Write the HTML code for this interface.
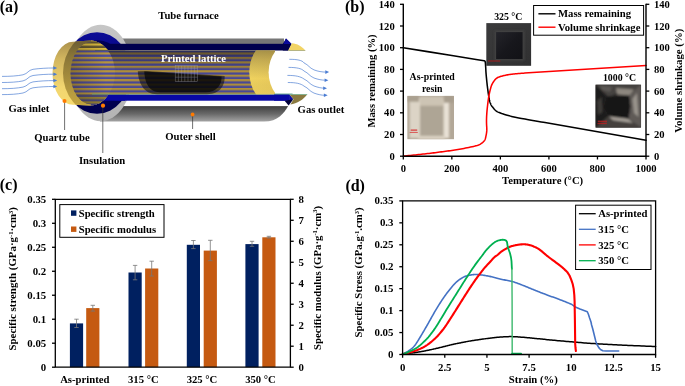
<!DOCTYPE html>
<html><head><meta charset="utf-8"><title>Figure</title>
<style>
html,body{margin:0;padding:0;background:#fff;}
svg{display:block;will-change:transform;font-family:"Liberation Serif",serif;font-weight:bold;}
svg text{opacity:0.999;}
</style></head><body>
<svg width="685" height="386" viewBox="0 0 685 386">
<rect width="685" height="386" fill="#fff"/>
<g id="panel-a">
<defs>
<linearGradient id="gShell" x1="0" y1="0" x2="0" y2="1"><stop offset="0" stop-color="#3e3e3e"/><stop offset="0.5" stop-color="#686868"/><stop offset="1" stop-color="#a4a4a4"/></linearGradient>
<linearGradient id="gFlange" x1="0" y1="0" x2="0" y2="1"><stop offset="0" stop-color="#c6c6c6"/><stop offset="0.5" stop-color="#bcbcbc"/><stop offset="1" stop-color="#b4b4b4"/></linearGradient>
<linearGradient id="gRing" x1="0" y1="0" x2="0" y2="1"><stop offset="0" stop-color="#0c0c96"/><stop offset="0.2" stop-color="#09098c"/><stop offset="0.45" stop-color="#00005e"/><stop offset="1" stop-color="#00004c"/></linearGradient>
<linearGradient id="gFront" x1="0" y1="0" x2="0" y2="1"><stop offset="0" stop-color="#a48a48"/><stop offset="0.3" stop-color="#d2b660"/><stop offset="0.7" stop-color="#f2d670"/><stop offset="1" stop-color="#f6da6e"/></linearGradient>
<linearGradient id="gWall" x1="0" y1="0" x2="0" y2="1"><stop offset="0" stop-color="#5c5030"/><stop offset="0.3" stop-color="#8a7638"/><stop offset="0.75" stop-color="#b89c40"/><stop offset="1" stop-color="#c8a83c"/></linearGradient>
<linearGradient id="gCres" x1="0" y1="0" x2="1" y2="0"><stop offset="0" stop-color="#f6d860"/><stop offset="0.55" stop-color="#f0d05c"/><stop offset="1" stop-color="#b8a05a"/></linearGradient>
<linearGradient id="gCresV" x1="0" y1="0" x2="0" y2="1"><stop offset="0" stop-color="#5a4e30" stop-opacity="0.7"/><stop offset="0.3" stop-color="#6a5c38" stop-opacity="0.35"/><stop offset="0.6" stop-color="#6a6040" stop-opacity="0.05"/><stop offset="1" stop-color="#ffe060" stop-opacity="0.35"/></linearGradient>
<pattern id="pStripes" x="0" y="52.4" width="10" height="4.45" patternUnits="userSpaceOnUse"><rect width="10" height="4.45" fill="#4c4c9e"/><rect y="0" width="10" height="2.2" fill="#b8963c"/></pattern>
<pattern id="pStripesTop" x="0" y="52.4" width="10" height="4.45" patternUnits="userSpaceOnUse"><rect width="10" height="4.45" fill="#5e5430"/><rect y="0" width="10" height="2.2" fill="#dcbc3e"/></pattern>
<pattern id="pStripesBot" x="0" y="52.4" width="10" height="4.45" patternUnits="userSpaceOnUse"><rect width="10" height="4.45" fill="#48467c"/><rect y="0" width="10" height="2.2" fill="#948034"/></pattern><linearGradient id="gShadeT" x1="0" y1="0" x2="0" y2="1"><stop offset="0" stop-color="#0a0a18" stop-opacity="0.5"/><stop offset="0.4" stop-color="#0a0a18" stop-opacity="0.25"/><stop offset="1" stop-color="#0a0a18" stop-opacity="0"/></linearGradient>
<linearGradient id="gShadeL" x1="0" y1="0" x2="1" y2="0"><stop offset="0" stop-color="#2a2010" stop-opacity="0.32"/><stop offset="1" stop-color="#2a2010" stop-opacity="0"/></linearGradient>
<clipPath id="cTube"><path d="M73,41.8 L90,40.5 A25,32.5 0 0 1 107.0,49.2 L108,50.4 H270 V94.3 H108.8 A25,32.5 0 0 1 90,105.5 L73,104.8 A20.5,31.5 0 0 1 73,41.8 Z"/></clipPath>
<clipPath id="cStr"><path d="M91,30 V42.3 A20.5,31 0 0 0 91,104.3 V116 H280 V30 Z"/></clipPath>
<clipPath id="cShade"><path clip-rule="evenodd" d="M95,50.4 H275 V94.3 H95 Z M65,73 A25,32.5 0 1 0 115,73 A25,32.5 0 1 0 65,73 Z"/></clipPath>
<clipPath id="cWin"><rect x="60" y="50.4" width="215" height="43.9"/></clipPath>
</defs>
<text x="-0.30" y="12.20" font-size="16" text-anchor="start" fill="#000" >(a)</text>
<path d="M100,105.9 H288.2 C284,113 278,121.6 264,121.6 H100 Z" fill="url(#gShell)"/>
<rect x="118" y="38.5" width="166" height="5.6" fill="#777777"/>
<rect x="118" y="100.4" width="170.5" height="5.7" fill="#ffffff"/>
<ellipse cx="100.6" cy="73" rx="32" ry="48.2" fill="url(#gFlange)"/>
<ellipse cx="97" cy="73" rx="34" ry="40.8" fill="url(#gRing)"/>
<ellipse cx="98" cy="73.2" rx="27" ry="32.9" fill="#000056"/>
<rect x="100" y="43.8" width="188" height="6.7" fill="#00004e"/>
<rect x="100" y="94.4" width="189.6" height="6.3" fill="#0808a4"/>
<path d="M108.8,94.4 H125 V100.7 H124 C120,101 112,100 104,99.5 Z" fill="#0808a4"/>
<g clip-path="url(#cTube)">
<rect x="50" y="38" width="225" height="70" fill="url(#gFront)"/>
<ellipse cx="97" cy="73" rx="34" ry="40.8" fill="url(#gWall)"/>
<g clip-path="url(#cStr)">
<rect x="60" y="38" width="215" height="70" fill="url(#pStripes)"/>
<rect x="60" y="38" width="60" height="12.4" fill="url(#pStripesTop)"/>
<rect x="60" y="94.3" width="60" height="13" fill="url(#pStripesBot)"/>
<rect x="70" y="38" width="36" height="70" fill="url(#gShadeL)"/>
<g clip-path="url(#cShade)"><rect x="95" y="50.4" width="180" height="21" fill="url(#gShadeT)"/><rect x="95" y="50.4" width="180" height="44" fill="#101020" opacity="0.06"/>
<rect x="95" y="50.3" width="180" height="0.8" fill="#3f6068" opacity="0.9"/></g>
</g>
</g>
<rect x="92" y="93.7" width="200" height="0.8" fill="#5aa08a" opacity="0.8"/>
<g clip-path="url(#cWin)">
<ellipse cx="272.5" cy="72.3" rx="23.2" ry="31" fill="url(#gCres)"/>
<ellipse cx="272.5" cy="72.3" rx="23.2" ry="31" fill="url(#gCresV)"/>
<ellipse cx="292.6" cy="72.3" rx="24" ry="30.2" fill="#ffffff"/>
</g>
<rect x="274" y="94.4" width="15.6" height="6.3" fill="#0808a4"/>
<rect x="274" y="93.7" width="19" height="0.8" fill="#5aa08a" opacity="0.8"/>
<polygon points="282.8,43.9 286,38.5 291.6,43.9 288.4,50.5 282.8,50.5" fill="#00004e"/>
<polygon points="283.5,43.9 286,38.6 291.5,43.9" fill="#0a0a9c"/>
<path d="M288.2,50.5 L292,43.2 C297,43.4 302,46.5 305.3,50.5 Z" fill="#f2d465"/>
<rect x="288.2" y="50.1" width="17.1" height="0.7" fill="#9aa070"/>
<polygon points="289.4,94.4 293.4,99.3 289.4,100.7" fill="#0808a4"/>
<polygon points="284.6,100.7 293.4,99.2 288.6,105.6" fill="#00003c"/>
<path d="M289.4,94.5 H307.2 C303.5,99.5 297,103.8 290.4,104.5 L293.6,99.2 Z" fill="#8a7a40"/>
<rect x="289.4" y="94.1" width="17.8" height="0.8" fill="#76b090"/>
<path d="M137.8,71.2 L147,71 L224.6,76 C225.2,84 221,94.2 207,94.2 H157 C143,94.2 138.4,82 137.8,71.2 Z" fill="#0a0a0a" opacity="0.55"/>
<path d="M144.3,71.5 L221.6,76.4 C221.8,84 217.5,92.2 205,92.2 H160 C148.5,92.2 144.8,82 144.3,71.5 Z" fill="#050505" opacity="0.72"/>
<g stroke="#b0b0b8" stroke-width="0.5" fill="none" opacity="0.6">
<rect x="175.2" y="65.6" width="22.4" height="16"/>
<line x1="178.40" y1="65.6" x2="178.40" y2="81.6"/>
<line x1="181.60" y1="65.6" x2="181.60" y2="81.6"/>
<line x1="184.80" y1="65.6" x2="184.80" y2="81.6"/>
<line x1="188.00" y1="65.6" x2="188.00" y2="81.6"/>
<line x1="191.20" y1="65.6" x2="191.20" y2="81.6"/>
<line x1="194.40" y1="65.6" x2="194.40" y2="81.6"/>
<line x1="175.2" y1="68.4" x2="197.6" y2="68.4"/>
<line x1="175.2" y1="72.8" x2="197.6" y2="72.8"/>
<line x1="175.2" y1="77.2" x2="197.6" y2="77.2"/>
</g>
<text x="193.50" y="61.60" font-size="10.7" text-anchor="middle" fill="#ffffff" >Printed lattice</text>
<path d="M2,76.4 C10,76.4 17,76.0 23,74.80000000000001 C28,73.60000000000001 28,70.2 33,69.3 C40,68.4 46,68.0 54,68.0" fill="none" stroke="#4a7cd2" stroke-width="0.68"/>
<polygon points="57.2,68.0 53.4,66.25 53.4,69.75" fill="#4a7cd2"/>
<path d="M2,82.5 C10,82.5 17,82.1 23,80.9 C28,79.7 28,76.4 33,75.5 C40,74.60000000000001 46,74.2 54,74.2" fill="none" stroke="#4a7cd2" stroke-width="0.68"/>
<polygon points="57.2,74.2 53.4,72.45 53.4,75.95" fill="#4a7cd2"/>
<path d="M2,88.7 C10,88.7 17,88.3 23,87.10000000000001 C28,85.9 28,82.8 33,81.89999999999999 C40,81.0 46,80.6 54,80.6" fill="none" stroke="#4a7cd2" stroke-width="0.68"/>
<polygon points="57.2,80.6 53.4,78.85 53.4,82.35" fill="#4a7cd2"/>
<path d="M2,94.6 C10,94.6 17,94.19999999999999 23,93.0 C28,91.8 28,88.7 33,87.8 C40,86.9 46,86.5 54,86.5" fill="none" stroke="#4a7cd2" stroke-width="0.68"/>
<polygon points="57.2,86.5 53.4,84.75 53.4,88.25" fill="#4a7cd2"/>
<path d="M289.3,59.3 C297.3,59.3 302.3,60.3 304,62.9 C309,65.3 309,67.69999999999999 314,69.89999999999999 C318,71.39999999999999 322,72.1 326.1,72.1" fill="none" stroke="#4a7cd2" stroke-width="0.68"/>
<polygon points="329.1,72.1 325.3,70.3 325.3,73.89999999999999" fill="#4a7cd2"/>
<path d="M288.5,67.4 C296.5,67.4 301.5,68.4 304,71.0 C309,73.4 309,75.8 314,78.0 C318,79.5 322,80.2 325.4,80.2" fill="none" stroke="#4a7cd2" stroke-width="0.68"/>
<polygon points="328.4,80.2 324.59999999999997,78.4 324.59999999999997,82.0" fill="#4a7cd2"/>
<path d="M287.4,75.4 C295.4,75.4 300.4,76.4 304,79.0 C309,81.4 309,83.8 314,86.0 C318,87.5 322,88.2 324.0,88.2" fill="none" stroke="#4a7cd2" stroke-width="0.68"/>
<polygon points="327.0,88.2 323.2,86.4 323.2,90.0" fill="#4a7cd2"/>
<path d="M287.8,82.5 C295.8,82.5 300.8,83.5 304,86.1 C309,88.5 309,90.89999999999999 314,93.1 C318,94.6 322,95.3 324.7,95.3" fill="none" stroke="#4a7cd2" stroke-width="0.68"/>
<polygon points="327.7,95.3 323.9,93.5 323.9,97.1" fill="#4a7cd2"/>
<line x1="64.6" y1="101" x2="64.6" y2="130" stroke="#333" stroke-width="0.7"/>
<line x1="102.8" y1="106" x2="102.8" y2="153" stroke="#333" stroke-width="0.7"/>
<line x1="192.6" y1="114.4" x2="192.6" y2="129" stroke="#333" stroke-width="0.7"/>
<circle cx="64.5" cy="100.9" r="2.0" fill="#ff7a00"/>
<circle cx="103.0" cy="105.7" r="2.1" fill="#ff7a00"/>
<circle cx="192.6" cy="114.5" r="1.9" fill="#ff7a00"/>
<text x="188.50" y="19.00" font-size="10.7" text-anchor="middle" fill="#000" >Tube furnace</text>
<text x="28.90" y="111.80" font-size="10.7" text-anchor="middle" fill="#000" >Gas inlet</text>
<text x="61.90" y="140.80" font-size="10.7" text-anchor="middle" fill="#000" >Quartz tube</text>
<text x="102.10" y="163.60" font-size="10.7" text-anchor="middle" fill="#000" >Insulation</text>
<text x="190.50" y="139.60" font-size="10.7" text-anchor="middle" fill="#000" >Outer shell</text>
<text x="297.60" y="113.20" font-size="10.7" text-anchor="start" fill="#000" >Gas outlet</text>
</g>
<g id="panel-b">
<text x="345.00" y="12.20" font-size="16" text-anchor="start" fill="#000" >(b)</text>
<defs><filter id="bl1" x="-10%" y="-10%" width="120%" height="120%"><feGaussianBlur stdDeviation="1"/></filter><filter id="bl2" x="-10%" y="-10%" width="120%" height="120%"><feGaussianBlur stdDeviation="1.4"/></filter>
<linearGradient id="g325" x1="0" y1="0" x2="1" y2="1"><stop offset="0" stop-color="#3b3b3c"/><stop offset="1" stop-color="#303031"/></linearGradient>
<linearGradient id="g325i" x1="0" y1="0" x2="1" y2="1"><stop offset="0" stop-color="#24242a"/><stop offset="0.5" stop-color="#17171c"/><stop offset="1" stop-color="#121216"/></linearGradient>
<clipPath id="cAP"><rect x="407.2" y="95.8" width="46.8" height="43.6"/></clipPath><clipPath id="c1000"><rect x="595.4" y="84.6" width="45.7" height="43.2"/></clipPath></defs>
<rect x="486.3" y="23.1" width="44.8" height="42.7" fill="url(#g325)"/>
<rect x="494.6" y="30.6" width="29.6" height="30" fill="#424243" filter="url(#bl1)"/>
<rect x="496.1" y="32.1" width="26.5" height="26.9" fill="url(#g325i)"/>
<rect x="488" y="60.3" width="12.3" height="1.4" fill="#b81818" opacity="0.6"/>
<text x="508.30" y="20.40" font-size="9.8" text-anchor="middle" fill="#000" >325 °C</text>
<g clip-path="url(#cAP)">
<rect x="407.2" y="95.8" width="46.8" height="43.6" fill="#b3a898"/>
<g filter="url(#bl1)">
<rect x="409.7" y="98" width="10.3" height="40" fill="#dcd4c6"/>
<rect x="443.4" y="100" width="5.6" height="38" fill="#e8e1d5"/>
<rect x="420" y="96.5" width="23.5" height="9.2" fill="#cdc4b4"/>
<rect x="418" y="135.6" width="27" height="3.6" fill="#dbd3c4"/>
<rect x="407" y="95.8" width="12" height="6" fill="#aaa090"/>
<rect x="444" y="95.8" width="10" height="7" fill="#a89e8e"/>
<rect x="420.5" y="106.1" width="22.9" height="29.6" fill="#aea595"/>
</g>
<rect x="409.7" y="132.1" width="8.1" height="0.7" fill="#d83030"/>
<rect x="410.7" y="129.3" width="6.5" height="1.8" fill="#d84040" opacity="0.75"/>
</g>
<text x="432.20" y="80.00" font-size="9.8" text-anchor="middle" fill="#000" >As-printed</text>
<text x="432.20" y="91.70" font-size="9.8" text-anchor="middle" fill="#000" >resin</text>
<g clip-path="url(#c1000)">
<rect x="595.4" y="84.6" width="45.7" height="43.2" fill="#2b2928"/>
<g filter="url(#bl1)">
<polygon points="595,84 641.5,84 631,96 618,93 606,98" fill="#45423f"/>
<polygon points="616,88 634,89.5 629.5,95.8 617,94.5" fill="#8c867e"/>
<polygon points="600,86 612,87 610,92 602,90" fill="#5c5854"/>
<polygon points="641.5,84 641.5,128 628.4,119 630.4,106 629,95.5" fill="#5e5a56"/>
<polygon points="632.5,99 637,93 638.5,117 634,113" fill="#98938b"/>
<polygon points="595,128 641.5,128 628.4,118.4 608.8,115.7" fill="#44413e"/>
<polygon points="609,116.6 628,118.8 633,123 613,120.2" fill="#a49e96"/>
<polygon points="595,84 607.5,96.2 604.1,106.9 608.8,115.7 595,128" fill="#1f1d1c"/>
<polygon points="597,101 601.5,97 602.5,112 598,115" fill="#3e3b39"/>
<polygon points="607.5,96.2 629,95.5 630.4,106.9 628.4,118.4 608.8,115.7 604.1,106.9" fill="#151517"/>
</g>
<rect x="597.4" y="123.4" width="9.4" height="0.7" fill="#e01818"/>
<rect x="597.8" y="120.6" width="9.2" height="1.7" fill="#c82020" opacity="0.7"/>
</g>
<text x="619.50" y="80.60" font-size="9.8" text-anchor="middle" fill="#000" >1000 °C</text>
<polyline points="403.30,47.70 427.57,51.61 451.84,55.51 476.11,59.42 484.12,60.72 484.12,60.72 484.21,60.77 484.33,60.81 484.48,60.86 484.63,60.92 484.80,61.03 484.96,61.20 485.10,61.45 485.21,61.81 485.30,62.27 485.38,62.82 485.44,63.45 485.50,64.15 485.55,64.89 485.59,65.67 485.64,66.45 485.70,67.23 485.75,67.99 485.78,68.73 485.82,69.48 485.85,70.26 485.89,71.10 485.95,72.01 486.02,73.03 486.11,74.17 486.22,75.47 486.36,76.91 486.51,78.45 486.67,80.07 486.84,81.74 487.02,83.41 487.20,85.06 487.40,86.65 487.60,88.25 487.82,89.93 488.05,91.63 488.28,93.31 488.52,94.94 488.75,96.46 488.98,97.83 489.19,99.02 489.39,100.00 489.58,100.81 489.76,101.49 489.94,102.05 490.11,102.54 490.29,103.00 490.48,103.44 490.67,103.90 490.86,104.35 491.04,104.75 491.21,105.09 491.39,105.42 491.59,105.74 491.82,106.07 492.08,106.43 492.40,106.83 492.76,107.30 493.17,107.82 493.62,108.36 494.09,108.92 494.59,109.47 495.09,109.99 495.60,110.48 496.11,110.90 496.61,111.26 497.12,111.58 497.64,111.86 498.16,112.11 498.70,112.35 499.25,112.57 499.81,112.79 500.38,113.02 500.95,113.24 501.50,113.44 502.05,113.63 502.62,113.81 503.23,114.00 503.88,114.20 504.60,114.41 505.40,114.64 506.29,114.91 507.24,115.20 508.26,115.50 509.33,115.81 510.44,116.13 511.60,116.44 512.78,116.74 514.00,117.03 515.19,117.30 516.36,117.54 517.55,117.77 518.78,117.99 520.10,118.23 521.55,118.49 523.17,118.77 524.99,119.09 527.20,119.48 529.83,119.94 532.71,120.44 535.68,120.96 538.56,121.46 541.18,121.91 543.38,122.29 544.99,122.56 544.99,122.56 646.00,140.30" fill="none" stroke="#000" stroke-width="1.55" stroke-linejoin="round" stroke-linecap="round" />
<polyline points="403.30,156.20 404.24,156.10 405.48,155.97 406.96,155.81 408.61,155.63 410.35,155.44 412.12,155.25 413.84,155.07 415.44,154.90 416.95,154.74 418.47,154.58 419.99,154.42 421.50,154.26 423.02,154.10 424.54,153.94 426.05,153.77 427.57,153.60 429.09,153.42 430.60,153.23 432.12,153.05 433.64,152.86 435.15,152.66 436.67,152.47 438.19,152.27 439.71,152.08 441.22,151.88 442.74,151.69 444.26,151.49 445.77,151.30 447.29,151.10 448.81,150.89 450.32,150.67 451.84,150.45 453.36,150.22 454.87,149.98 456.39,149.73 457.91,149.48 459.42,149.22 460.94,148.95 462.46,148.67 463.98,148.39 465.54,148.08 467.18,147.76 468.85,147.43 470.50,147.09 472.09,146.74 473.59,146.41 474.94,146.09 476.11,145.78 477.07,145.51 477.86,145.26 478.52,145.03 479.07,144.80 479.55,144.57 480.01,144.32 480.47,144.04 480.96,143.72 481.49,143.37 482.01,143.01 482.51,142.62 483.00,142.21 483.45,141.78 483.88,141.33 484.26,140.86 484.60,140.36 484.90,139.83 485.14,139.28 485.34,138.70 485.51,138.10 485.66,137.48 485.80,136.86 485.93,136.22 486.06,135.58 486.19,134.95 486.32,134.30 486.43,133.65 486.53,132.98 486.62,132.30 486.69,131.61 486.75,130.89 486.79,130.16 486.80,129.39 486.79,128.58 486.76,127.75 486.71,126.91 486.66,126.06 486.61,125.23 486.57,124.42 486.55,123.65 486.53,122.93 486.52,122.27 486.51,121.63 486.50,121.01 486.50,120.37 486.51,119.71 486.52,119.00 486.55,118.22 486.58,117.39 486.62,116.50 486.67,115.58 486.73,114.63 486.79,113.65 486.86,112.66 486.94,111.65 487.03,110.63 487.13,109.58 487.24,108.49 487.36,107.36 487.49,106.22 487.62,105.09 487.75,103.99 487.88,102.94 488.00,101.95 488.12,101.02 488.24,100.14 488.36,99.30 488.47,98.49 488.59,97.71 488.71,96.94 488.84,96.19 488.97,95.44 489.11,94.71 489.25,93.99 489.40,93.30 489.55,92.63 489.70,91.96 489.86,91.31 490.02,90.66 490.19,90.02 490.35,89.37 490.52,88.73 490.68,88.10 490.85,87.47 491.03,86.86 491.22,86.26 491.42,85.69 491.64,85.13 491.88,84.60 492.13,84.09 492.39,83.60 492.66,83.12 492.94,82.66 493.23,82.21 493.53,81.77 493.83,81.33 494.13,80.91 494.43,80.49 494.74,80.08 495.06,79.69 495.39,79.31 495.73,78.95 496.10,78.61 496.50,78.30 496.91,78.02 497.33,77.77 497.77,77.54 498.23,77.33 498.71,77.14 499.23,76.95 499.78,76.76 500.38,76.56 501.02,76.36 501.70,76.16 502.42,75.96 503.17,75.76 503.95,75.57 504.76,75.39 505.59,75.21 506.45,75.04 507.32,74.88 508.21,74.74 509.12,74.59 510.06,74.46 511.03,74.33 512.04,74.20 513.10,74.08 514.21,73.96 515.46,73.83 516.88,73.70 518.39,73.58 519.92,73.46 521.38,73.34 522.71,73.24 523.83,73.15 524.65,73.09 646.00,65.49" fill="none" stroke="#ff0000" stroke-width="1.55" stroke-linejoin="round" stroke-linecap="round" />
<path d="M403.3,3.6999999999999997 V156.2 H646.0 V3.6999999999999997" fill="none" stroke="#000" stroke-width="1.4"/>
<line x1="400.0" y1="156.20" x2="403.3" y2="156.20" stroke="#000" stroke-width="1.3"/>
<line x1="646.0" y1="156.20" x2="649.3" y2="156.20" stroke="#000" stroke-width="1.3"/>
<text x="394.70" y="159.80" font-size="10.6" text-anchor="end" fill="#000" >0</text>
<text x="654.00" y="159.80" font-size="10.6" text-anchor="start" fill="#000" >0</text>
<line x1="400.0" y1="134.50" x2="403.3" y2="134.50" stroke="#000" stroke-width="1.3"/>
<line x1="646.0" y1="134.50" x2="649.3" y2="134.50" stroke="#000" stroke-width="1.3"/>
<text x="394.70" y="138.10" font-size="10.6" text-anchor="end" fill="#000" >20</text>
<text x="654.00" y="138.10" font-size="10.6" text-anchor="start" fill="#000" >20</text>
<line x1="400.0" y1="112.80" x2="403.3" y2="112.80" stroke="#000" stroke-width="1.3"/>
<line x1="646.0" y1="112.80" x2="649.3" y2="112.80" stroke="#000" stroke-width="1.3"/>
<text x="394.70" y="116.40" font-size="10.6" text-anchor="end" fill="#000" >40</text>
<text x="654.00" y="116.40" font-size="10.6" text-anchor="start" fill="#000" >40</text>
<line x1="400.0" y1="91.10" x2="403.3" y2="91.10" stroke="#000" stroke-width="1.3"/>
<line x1="646.0" y1="91.10" x2="649.3" y2="91.10" stroke="#000" stroke-width="1.3"/>
<text x="394.70" y="94.70" font-size="10.6" text-anchor="end" fill="#000" >60</text>
<text x="654.00" y="94.70" font-size="10.6" text-anchor="start" fill="#000" >60</text>
<line x1="400.0" y1="69.40" x2="403.3" y2="69.40" stroke="#000" stroke-width="1.3"/>
<line x1="646.0" y1="69.40" x2="649.3" y2="69.40" stroke="#000" stroke-width="1.3"/>
<text x="394.70" y="73.00" font-size="10.6" text-anchor="end" fill="#000" >80</text>
<text x="654.00" y="73.00" font-size="10.6" text-anchor="start" fill="#000" >80</text>
<line x1="400.0" y1="47.70" x2="403.3" y2="47.70" stroke="#000" stroke-width="1.3"/>
<line x1="646.0" y1="47.70" x2="649.3" y2="47.70" stroke="#000" stroke-width="1.3"/>
<text x="394.70" y="51.30" font-size="10.6" text-anchor="end" fill="#000" >100</text>
<text x="654.00" y="51.30" font-size="10.6" text-anchor="start" fill="#000" >100</text>
<line x1="400.0" y1="26.00" x2="403.3" y2="26.00" stroke="#000" stroke-width="1.3"/>
<line x1="646.0" y1="26.00" x2="649.3" y2="26.00" stroke="#000" stroke-width="1.3"/>
<text x="394.70" y="29.60" font-size="10.6" text-anchor="end" fill="#000" >120</text>
<text x="654.00" y="29.60" font-size="10.6" text-anchor="start" fill="#000" >120</text>
<line x1="400.0" y1="4.30" x2="403.3" y2="4.30" stroke="#000" stroke-width="1.3"/>
<line x1="646.0" y1="4.30" x2="649.3" y2="4.30" stroke="#000" stroke-width="1.3"/>
<text x="394.70" y="7.90" font-size="10.6" text-anchor="end" fill="#000" >140</text>
<text x="654.00" y="7.90" font-size="10.6" text-anchor="start" fill="#000" >140</text>
<line x1="403.30" y1="156.2" x2="403.30" y2="159.5" stroke="#000" stroke-width="1.3"/>
<text x="403.30" y="172.40" font-size="10.6" text-anchor="middle" fill="#000" >0</text>
<line x1="451.84" y1="156.2" x2="451.84" y2="159.5" stroke="#000" stroke-width="1.3"/>
<text x="451.84" y="172.40" font-size="10.6" text-anchor="middle" fill="#000" >200</text>
<line x1="500.38" y1="156.2" x2="500.38" y2="159.5" stroke="#000" stroke-width="1.3"/>
<text x="500.38" y="172.40" font-size="10.6" text-anchor="middle" fill="#000" >400</text>
<line x1="548.92" y1="156.2" x2="548.92" y2="159.5" stroke="#000" stroke-width="1.3"/>
<text x="548.92" y="172.40" font-size="10.6" text-anchor="middle" fill="#000" >600</text>
<line x1="597.46" y1="156.2" x2="597.46" y2="159.5" stroke="#000" stroke-width="1.3"/>
<text x="597.46" y="172.40" font-size="10.6" text-anchor="middle" fill="#000" >800</text>
<line x1="646.00" y1="156.2" x2="646.00" y2="159.5" stroke="#000" stroke-width="1.3"/>
<text x="646.00" y="172.40" font-size="10.6" text-anchor="middle" fill="#000" >1000</text>
<text x="542.60" y="184.40" font-size="10.7" text-anchor="middle" fill="#000" >Temperature (°C)</text>
<text transform="translate(375.20,81.00) rotate(-90)" font-size="10.65" text-anchor="middle" fill="#000">Mass remaining (%)</text>
<text transform="translate(682.10,80.70) rotate(-90)" font-size="10.8" text-anchor="middle" fill="#000">Volume shrinkage (%)</text>
<rect x="533.6" y="5.5" width="110" height="29.7" fill="#fff" stroke="#000" stroke-width="1"/>
<line x1="538.4" y1="13.8" x2="555.5" y2="13.8" stroke="#000" stroke-width="1.4"/>
<line x1="538.4" y1="27.2" x2="555.5" y2="27.2" stroke="#ff0000" stroke-width="1.4"/>
<text x="558.00" y="17.40" font-size="10.7" text-anchor="start" fill="#000" >Mass remaining</text>
<text x="558.00" y="30.80" font-size="10.7" text-anchor="start" fill="#000" >Volume shrinkage</text>
</g>
<g id="panel-c">
<text x="-0.30" y="189.70" font-size="16" text-anchor="start" fill="#000" >(c)</text>
<rect x="69.9" y="323.4" width="13.2" height="43.80" fill="#002060"/>
<rect x="86.2" y="308.1" width="13.2" height="59.10" fill="#c55a11"/>
<path d="M76.50,319.2 V327.5 M74.30,319.2 H78.70 M74.30,327.5 H78.70" stroke="#767676" stroke-width="0.8" fill="none"/>
<path d="M92.80,305.3 V311.1 M90.60,305.3 H95.00 M90.60,311.1 H95.00" stroke="#767676" stroke-width="0.8" fill="none"/>
<rect x="128.5" y="272.5" width="13.2" height="94.70" fill="#002060"/>
<rect x="145.1" y="268.5" width="13.2" height="98.70" fill="#c55a11"/>
<path d="M135.10,265.4 V279.8 M132.90,265.4 H137.30 M132.90,279.8 H137.30" stroke="#767676" stroke-width="0.8" fill="none"/>
<path d="M151.70,261.2 V276.0 M149.50,261.2 H153.90 M149.50,276.0 H153.90" stroke="#767676" stroke-width="0.8" fill="none"/>
<rect x="186.8" y="244.8" width="13.2" height="122.40" fill="#002060"/>
<rect x="203.7" y="250.6" width="13.2" height="116.60" fill="#c55a11"/>
<path d="M193.40,240.5 V248.6 M191.20,240.5 H195.60 M191.20,248.6 H195.60" stroke="#767676" stroke-width="0.8" fill="none"/>
<path d="M210.30,240.3 V260.7 M208.10,240.3 H212.50 M208.10,260.7 H212.50" stroke="#767676" stroke-width="0.8" fill="none"/>
<rect x="245.4" y="244.1" width="13.2" height="123.10" fill="#002060"/>
<rect x="262.3" y="237.3" width="13.2" height="129.90" fill="#c55a11"/>
<path d="M252.00,241.3 V246.3 M249.80,241.3 H254.20 M249.80,246.3 H254.20" stroke="#767676" stroke-width="0.8" fill="none"/>
<path d="M268.90,236.3 V238.0 M266.70,236.3 H271.10 M266.70,238.0 H271.10" stroke="#767676" stroke-width="0.8" fill="none"/>
<path d="M55.3,199.3 V367.2 H290.4 V199.3 Z" fill="none" stroke="#000" stroke-width="1.3"/>
<line x1="52.0" y1="367.20" x2="55.3" y2="367.20" stroke="#000" stroke-width="1.3"/>
<text x="46.20" y="370.80" font-size="10.8" text-anchor="end" fill="#000" >0</text>
<line x1="52.0" y1="343.21" x2="55.3" y2="343.21" stroke="#000" stroke-width="1.3"/>
<text x="46.20" y="346.81" font-size="10.8" text-anchor="end" fill="#000" >0.05</text>
<line x1="52.0" y1="319.23" x2="55.3" y2="319.23" stroke="#000" stroke-width="1.3"/>
<text x="46.20" y="322.83" font-size="10.8" text-anchor="end" fill="#000" >0.1</text>
<line x1="52.0" y1="295.24" x2="55.3" y2="295.24" stroke="#000" stroke-width="1.3"/>
<text x="46.20" y="298.84" font-size="10.8" text-anchor="end" fill="#000" >0.15</text>
<line x1="52.0" y1="271.26" x2="55.3" y2="271.26" stroke="#000" stroke-width="1.3"/>
<text x="46.20" y="274.86" font-size="10.8" text-anchor="end" fill="#000" >0.2</text>
<line x1="52.0" y1="247.27" x2="55.3" y2="247.27" stroke="#000" stroke-width="1.3"/>
<text x="46.20" y="250.87" font-size="10.8" text-anchor="end" fill="#000" >0.25</text>
<line x1="52.0" y1="223.29" x2="55.3" y2="223.29" stroke="#000" stroke-width="1.3"/>
<text x="46.20" y="226.89" font-size="10.8" text-anchor="end" fill="#000" >0.3</text>
<line x1="52.0" y1="199.30" x2="55.3" y2="199.30" stroke="#000" stroke-width="1.3"/>
<text x="46.20" y="202.90" font-size="10.8" text-anchor="end" fill="#000" >0.35</text>
<line x1="290.4" y1="367.20" x2="293.7" y2="367.20" stroke="#000" stroke-width="1.3"/>
<text x="298.60" y="370.80" font-size="10.8" text-anchor="start" fill="#000" >0</text>
<line x1="290.4" y1="346.21" x2="293.7" y2="346.21" stroke="#000" stroke-width="1.3"/>
<text x="298.60" y="349.81" font-size="10.8" text-anchor="start" fill="#000" >1</text>
<line x1="290.4" y1="325.23" x2="293.7" y2="325.23" stroke="#000" stroke-width="1.3"/>
<text x="298.60" y="328.83" font-size="10.8" text-anchor="start" fill="#000" >2</text>
<line x1="290.4" y1="304.24" x2="293.7" y2="304.24" stroke="#000" stroke-width="1.3"/>
<text x="298.60" y="307.84" font-size="10.8" text-anchor="start" fill="#000" >3</text>
<line x1="290.4" y1="283.25" x2="293.7" y2="283.25" stroke="#000" stroke-width="1.3"/>
<text x="298.60" y="286.85" font-size="10.8" text-anchor="start" fill="#000" >4</text>
<line x1="290.4" y1="262.26" x2="293.7" y2="262.26" stroke="#000" stroke-width="1.3"/>
<text x="298.60" y="265.86" font-size="10.8" text-anchor="start" fill="#000" >5</text>
<line x1="290.4" y1="241.28" x2="293.7" y2="241.28" stroke="#000" stroke-width="1.3"/>
<text x="298.60" y="244.88" font-size="10.8" text-anchor="start" fill="#000" >6</text>
<line x1="290.4" y1="220.29" x2="293.7" y2="220.29" stroke="#000" stroke-width="1.3"/>
<text x="298.60" y="223.89" font-size="10.8" text-anchor="start" fill="#000" >7</text>
<line x1="290.4" y1="199.30" x2="293.7" y2="199.30" stroke="#000" stroke-width="1.3"/>
<text x="298.60" y="202.90" font-size="10.8" text-anchor="start" fill="#000" >8</text>
<text x="84.80" y="383.10" font-size="10.7" text-anchor="middle" fill="#000" >As-printed</text>
<text x="143.30" y="383.10" font-size="10.7" text-anchor="middle" fill="#000" >315 °C</text>
<text x="202.00" y="383.10" font-size="10.7" text-anchor="middle" fill="#000" >325 °C</text>
<text x="260.50" y="383.10" font-size="10.7" text-anchor="middle" fill="#000" >350 °C</text>
<text transform="translate(16.40,278.80) rotate(-90)" font-size="10.9" text-anchor="middle" fill="#000">Specific strength (GPa·g<tspan font-size="6.5" dy="-3.6">-1</tspan><tspan dy="3.6">·cm</tspan><tspan font-size="6.5" dy="-3.6">3</tspan><tspan dy="3.6">)</tspan></text>
<text transform="translate(321.00,277.90) rotate(-90)" font-size="10.85" text-anchor="middle" fill="#000">Specific modulus (GPa·g<tspan font-size="6.5" dy="-3.6">-1</tspan><tspan dy="3.6">·cm</tspan><tspan font-size="6.5" dy="-3.6">3</tspan><tspan dy="3.6">)</tspan></text>
<rect x="59.8" y="204.6" width="104.2" height="32.7" fill="#fff" stroke="#000" stroke-width="1"/>
<rect x="71.0" y="210.4" width="5.4" height="5.4" fill="#002060"/>
<rect x="71.0" y="226.5" width="5.4" height="5.4" fill="#c55a11"/>
<text x="78.70" y="216.70" font-size="10.7" text-anchor="start" fill="#000" >Specific strength</text>
<text x="78.70" y="232.80" font-size="10.7" text-anchor="start" fill="#000" >Specific modulus</text>
</g>
<g id="panel-d">
<text x="345.40" y="191.30" font-size="16" text-anchor="start" fill="#000" >(d)</text>
<polyline points="402.60,354.30 402.89,354.26 403.24,354.21 403.65,354.15 404.11,354.08 404.61,354.00 405.15,353.93 405.72,353.84 406.31,353.76 406.92,353.67 407.54,353.58 408.17,353.49 408.80,353.40 409.44,353.31 410.12,353.22 410.82,353.13 411.54,353.04 412.28,352.94 413.04,352.84 413.80,352.74 414.57,352.64 415.34,352.54 416.10,352.43 416.86,352.31 417.60,352.20 418.33,352.08 419.07,351.96 419.80,351.84 420.53,351.71 421.27,351.58 422.00,351.44 422.73,351.31 423.47,351.17 424.20,351.03 424.93,350.89 425.67,350.75 426.40,350.60 427.13,350.45 427.86,350.31 428.58,350.16 429.31,350.00 430.03,349.85 430.76,349.69 431.48,349.54 432.21,349.37 432.95,349.21 433.69,349.04 434.44,348.87 435.20,348.70 435.97,348.52 436.76,348.34 437.56,348.15 438.37,347.95 439.18,347.75 439.99,347.56 440.81,347.36 441.61,347.16 442.41,346.96 443.19,346.77 443.96,346.58 444.70,346.40 445.42,346.22 446.12,346.05 446.81,345.87 447.48,345.70 448.14,345.54 448.79,345.37 449.45,345.20 450.10,345.04 450.76,344.88 451.43,344.72 452.10,344.56 452.80,344.40 453.51,344.24 454.23,344.09 454.96,343.93 455.70,343.78 456.44,343.63 457.18,343.48 457.93,343.33 458.67,343.18 459.41,343.03 460.15,342.89 460.88,342.74 461.60,342.60 462.32,342.46 463.03,342.32 463.74,342.18 464.44,342.04 465.15,341.90 465.85,341.76 466.55,341.63 467.24,341.50 467.94,341.37 468.63,341.24 469.32,341.12 470.00,341.00 470.67,340.89 471.33,340.78 471.98,340.68 472.62,340.58 473.26,340.48 473.90,340.39 474.55,340.29 475.20,340.20 475.87,340.10 476.56,340.01 477.26,339.91 478.00,339.80 478.76,339.69 479.53,339.58 480.31,339.46 481.11,339.34 481.92,339.23 482.75,339.11 483.59,338.99 484.44,338.87 485.31,338.75 486.19,338.63 487.09,338.51 488.00,338.40 488.93,338.29 489.90,338.17 490.88,338.05 491.89,337.93 492.91,337.81 493.94,337.69 494.97,337.58 496.00,337.47 497.02,337.37 498.03,337.27 499.03,337.18 500.00,337.10 500.95,337.03 501.89,336.96 502.82,336.89 503.74,336.83 504.65,336.78 505.56,336.73 506.47,336.69 507.37,336.66 508.27,336.63 509.18,336.61 510.09,336.60 511.00,336.60 511.91,336.61 512.81,336.63 513.70,336.66 514.59,336.70 515.48,336.74 516.38,336.79 517.27,336.85 518.19,336.91 519.11,336.98 520.05,337.05 521.01,337.13 522.00,337.20 523.01,337.28 524.03,337.36 525.06,337.45 526.11,337.54 527.17,337.64 528.25,337.74 529.34,337.85 530.44,337.96 531.56,338.06 532.69,338.18 533.84,338.29 535.00,338.40 536.16,338.51 537.33,338.63 538.49,338.75 539.67,338.87 540.86,338.99 542.06,339.11 543.29,339.24 544.56,339.37 545.85,339.50 547.19,339.63 548.57,339.76 550.00,339.90 551.49,340.04 553.03,340.18 554.62,340.33 556.25,340.48 557.92,340.63 559.61,340.79 561.33,340.94 563.06,341.10 564.80,341.25 566.54,341.40 568.28,341.55 570.00,341.70 571.73,341.85 573.49,342.00 575.27,342.15 577.07,342.30 578.87,342.45 580.67,342.59 582.48,342.74 584.27,342.88 586.04,343.02 587.79,343.15 589.51,343.28 591.20,343.40 592.85,343.51 594.46,343.62 596.04,343.72 597.60,343.81 599.14,343.91 600.68,343.99 602.20,344.08 603.73,344.16 605.27,344.25 606.83,344.33 608.40,344.41 610.00,344.50 611.61,344.59 613.20,344.67 614.78,344.76 616.37,344.84 617.96,344.92 619.58,345.01 621.21,345.09 622.87,345.17 624.58,345.25 626.33,345.33 628.13,345.42 630.00,345.50 632.02,345.59 634.24,345.68 636.61,345.77 639.07,345.87 641.57,345.97 644.05,346.06 646.46,346.15 648.76,346.24 650.87,346.32 652.75,346.39 654.35,346.45 655.60,346.50" fill="none" stroke="#000" stroke-width="1.5" stroke-linejoin="round" stroke-linecap="round" />
<polyline points="402.60,354.00 402.74,353.93 402.91,353.85 403.11,353.76 403.34,353.66 403.58,353.54 403.84,353.42 404.12,353.29 404.40,353.16 404.68,353.02 404.96,352.88 405.24,352.74 405.50,352.60 405.75,352.47 406.00,352.34 406.25,352.22 406.50,352.10 406.75,351.97 407.00,351.84 407.26,351.69 407.54,351.54 407.82,351.36 408.13,351.17 408.45,350.95 408.80,350.70 409.17,350.43 409.57,350.15 409.98,349.86 410.42,349.55 410.87,349.22 411.33,348.88 411.79,348.51 412.26,348.12 412.73,347.70 413.19,347.26 413.65,346.80 414.10,346.30 414.53,345.78 414.95,345.25 415.36,344.70 415.77,344.13 416.18,343.53 416.59,342.91 417.01,342.26 417.44,341.57 417.89,340.84 418.37,340.08 418.87,339.26 419.40,338.40 419.97,337.47 420.57,336.48 421.21,335.42 421.87,334.32 422.54,333.18 423.23,332.01 423.93,330.82 424.62,329.63 425.31,328.44 425.99,327.26 426.66,326.11 427.30,325.00 427.92,323.91 428.54,322.82 429.15,321.73 429.75,320.65 430.34,319.57 430.94,318.50 431.53,317.43 432.12,316.37 432.71,315.32 433.30,314.27 433.90,313.23 434.50,312.20 435.11,311.18 435.71,310.15 436.32,309.14 436.93,308.13 437.54,307.12 438.15,306.12 438.76,305.14 439.37,304.16 439.98,303.20 440.59,302.25 441.19,301.32 441.80,300.40 442.40,299.50 443.00,298.61 443.60,297.73 444.20,296.87 444.80,296.01 445.40,295.17 446.00,294.35 446.60,293.53 447.20,292.73 447.80,291.94 448.40,291.16 449.00,290.40 449.60,289.64 450.21,288.89 450.82,288.15 451.43,287.42 452.03,286.70 452.64,285.99 453.25,285.31 453.86,284.64 454.47,283.99 455.08,283.37 455.69,282.77 456.30,282.20 456.91,281.66 457.52,281.14 458.13,280.64 458.74,280.16 459.35,279.70 459.96,279.27 460.57,278.86 461.17,278.46 461.78,278.09 462.39,277.74 463.00,277.41 463.60,277.10 464.20,276.81 464.80,276.56 465.40,276.32 466.00,276.11 466.60,275.93 467.20,275.76 467.80,275.60 468.40,275.46 469.00,275.34 469.60,275.22 470.20,275.11 470.80,275.00 471.39,274.90 471.97,274.81 472.53,274.73 473.09,274.67 473.65,274.61 474.22,274.57 474.80,274.54 475.40,274.52 476.02,274.52 476.67,274.53 477.37,274.56 478.10,274.60 478.88,274.66 479.71,274.74 480.57,274.83 481.46,274.94 482.38,275.06 483.32,275.20 484.27,275.35 485.23,275.50 486.18,275.67 487.14,275.84 488.08,276.02 489.00,276.20 489.91,276.39 490.80,276.60 491.69,276.82 492.58,277.04 493.47,277.28 494.36,277.52 495.26,277.77 496.17,278.02 497.10,278.27 498.04,278.52 499.01,278.76 500.00,279.00 501.03,279.23 502.09,279.45 503.18,279.67 504.29,279.89 505.42,280.11 506.56,280.32 507.69,280.55 508.82,280.78 509.93,281.02 511.02,281.26 512.08,281.52 513.10,281.80 514.09,282.09 515.06,282.40 516.02,282.72 516.96,283.05 517.88,283.39 518.79,283.74 519.68,284.09 520.57,284.44 521.44,284.79 522.30,285.13 523.15,285.47 524.00,285.80 524.82,286.12 525.61,286.43 526.37,286.74 527.12,287.05 527.85,287.35 528.58,287.66 529.31,287.96 530.06,288.27 530.82,288.59 531.61,288.92 532.44,289.25 533.30,289.60 534.19,289.96 535.11,290.32 536.03,290.69 536.98,291.07 537.94,291.45 538.92,291.84 539.93,292.23 540.96,292.63 542.00,293.04 543.08,293.45 544.18,293.87 545.30,294.30 546.47,294.74 547.71,295.20 549.00,295.67 550.33,296.15 551.67,296.64 553.03,297.12 554.38,297.61 555.72,298.10 557.02,298.57 558.28,299.03 559.48,299.48 560.60,299.90 561.69,300.32 562.77,300.74 563.85,301.17 564.90,301.59 565.93,302.00 566.91,302.40 567.83,302.78 568.70,303.13 569.49,303.46 570.19,303.75 570.80,304.00 571.30,304.20 575.90,307.30 580.00,309.00 587.30,311.70 588.30,314.00 589.60,318.00 591.00,322.00 591.60,325.00 592.70,328.70 594.00,334.00 595.70,340.90 597.00,344.50 598.80,347.60 600.50,349.50 602.80,350.70 606.00,351.00 618.70,351.00" fill="none" stroke="#4472c4" stroke-width="1.6" stroke-linejoin="round" stroke-linecap="round" />
<polyline points="402.60,354.20 402.89,354.13 403.24,354.05 403.65,353.96 404.11,353.86 404.61,353.75 405.15,353.62 405.72,353.49 406.31,353.35 406.92,353.20 407.54,353.04 408.17,352.88 408.80,352.70 409.44,352.52 410.12,352.33 410.82,352.13 411.54,351.92 412.28,351.71 413.04,351.48 413.80,351.25 414.57,351.00 415.34,350.74 416.10,350.47 416.86,350.19 417.60,349.90 418.33,349.60 419.07,349.29 419.80,348.98 420.53,348.65 421.27,348.32 422.00,347.97 422.73,347.61 423.47,347.23 424.20,346.83 424.93,346.41 425.67,345.97 426.40,345.50 427.14,345.00 427.90,344.46 428.67,343.90 429.44,343.31 430.22,342.70 430.99,342.07 431.75,341.45 432.49,340.81 433.21,340.19 433.91,339.57 434.57,338.98 435.20,338.40 435.79,337.84 436.35,337.30 436.87,336.76 437.37,336.24 437.85,335.71 438.32,335.19 438.77,334.67 439.21,334.15 439.66,333.63 440.10,333.09 440.54,332.55 441.00,332.00 441.44,331.47 441.86,330.97 442.25,330.49 442.63,330.03 443.01,329.56 443.39,329.07 443.78,328.56 444.20,327.99 444.66,327.37 445.15,326.67 445.70,325.89 446.30,325.00 446.97,324.00 447.71,322.88 448.49,321.68 449.32,320.40 450.18,319.05 451.06,317.67 451.96,316.26 452.86,314.84 453.75,313.42 454.63,312.04 455.48,310.69 456.30,309.40 457.09,308.15 457.87,306.91 458.64,305.68 459.40,304.45 460.16,303.23 460.91,302.02 461.66,300.82 462.41,299.63 463.15,298.44 463.90,297.25 464.65,296.07 465.40,294.90 466.15,293.73 466.90,292.56 467.65,291.40 468.40,290.24 469.15,289.09 469.90,287.95 470.65,286.81 471.40,285.69 472.15,284.57 472.90,283.47 473.65,282.38 474.40,281.30 475.16,280.22 475.94,279.14 476.73,278.05 477.52,276.97 478.32,275.90 479.11,274.85 479.89,273.82 480.66,272.81 481.41,271.85 482.13,270.92 482.83,270.03 483.50,269.20 484.14,268.42 484.76,267.69 485.36,267.00 485.94,266.35 486.50,265.73 487.04,265.14 487.57,264.58 488.09,264.04 488.58,263.52 489.07,263.00 489.54,262.50 490.00,262.00 490.44,261.51 490.87,261.03 491.27,260.57 491.66,260.13 492.04,259.71 492.40,259.30 492.75,258.91 493.09,258.53 493.43,258.17 493.75,257.83 494.08,257.51 494.40,257.20 494.71,256.92 495.00,256.68 495.27,256.46 495.54,256.27 495.79,256.10 496.04,255.94 496.30,255.78 496.55,255.61 496.82,255.44 497.09,255.25 497.39,255.04 497.70,254.80 498.02,254.53 498.34,254.25 498.66,253.96 498.99,253.65 499.32,253.34 499.67,253.01 500.03,252.68 500.41,252.35 500.81,252.01 501.25,251.67 501.71,251.34 502.20,251.00 502.73,250.66 503.31,250.30 503.92,249.93 504.56,249.55 505.22,249.17 505.89,248.79 506.58,248.41 507.28,248.05 507.97,247.70 508.66,247.38 509.34,247.07 510.00,246.80 510.65,246.55 511.31,246.32 511.97,246.11 512.63,245.91 513.29,245.73 513.95,245.57 514.61,245.42 515.26,245.27 515.91,245.14 516.55,245.02 517.18,244.91 517.80,244.80 518.42,244.70 519.03,244.61 519.65,244.54 520.26,244.47 520.86,244.41 521.46,244.37 522.05,244.33 522.63,244.31 523.20,244.29 523.75,244.28 524.28,244.29 524.80,244.30 525.30,244.33 525.79,244.37 526.27,244.42 526.74,244.49 527.19,244.57 527.63,244.65 528.06,244.74 528.47,244.83 528.88,244.93 529.26,245.02 529.64,245.11 530.00,245.20 530.33,245.28 530.63,245.35 530.89,245.41 531.13,245.47 531.36,245.53 531.58,245.60 531.81,245.68 532.05,245.76 532.31,245.87 532.60,245.99 532.93,246.13 533.30,246.30 533.71,246.49 534.15,246.68 534.61,246.88 535.09,247.09 535.59,247.32 536.11,247.57 536.65,247.84 537.21,248.13 537.79,248.45 538.38,248.80 538.98,249.18 539.60,249.60 540.23,250.06 540.87,250.55 541.52,251.08 542.19,251.64 542.87,252.22 543.58,252.83 544.30,253.46 545.04,254.11 545.82,254.77 546.61,255.44 547.44,256.12 548.30,256.80 549.22,257.51 550.21,258.25 551.25,259.03 552.34,259.83 553.45,260.65 554.57,261.47 555.69,262.29 556.78,263.09 557.83,263.87 558.83,264.62 559.76,265.34 560.60,266.00 561.38,266.64 562.12,267.27 562.83,267.89 563.50,268.49 564.13,269.07 564.72,269.62 565.27,270.15 565.77,270.63 566.23,271.08 566.64,271.47 566.99,271.82 567.30,272.10 569.50,275.50 571.30,279.80 572.70,284.00 573.70,288.90 574.30,295.00 574.60,301.20 574.90,320.00 575.20,344.00 575.50,348.00 575.90,351.00" fill="none" stroke="#ff0000" stroke-width="2.1" stroke-linejoin="round" stroke-linecap="round" />
<polyline points="402.60,354.20 402.89,354.09 403.24,353.96 403.65,353.82 404.11,353.66 404.61,353.48 405.15,353.29 405.72,353.08 406.31,352.85 406.92,352.61 407.54,352.36 408.17,352.08 408.80,351.80 409.44,351.50 410.12,351.20 410.82,350.88 411.54,350.55 412.28,350.21 413.04,349.84 413.80,349.46 414.57,349.06 415.34,348.63 416.10,348.18 416.86,347.71 417.60,347.20 418.34,346.65 419.10,346.06 419.88,345.43 420.65,344.77 421.43,344.09 422.20,343.39 422.96,342.68 423.70,341.97 424.43,341.27 425.12,340.59 425.78,339.93 426.40,339.30 426.98,338.70 427.52,338.11 428.03,337.54 428.52,336.98 428.98,336.42 429.43,335.88 429.86,335.33 430.28,334.78 430.70,334.22 431.13,333.66 431.56,333.09 432.00,332.50 432.43,331.93 432.83,331.39 433.22,330.89 433.59,330.39 433.95,329.88 434.32,329.36 434.71,328.80 435.13,328.19 435.57,327.52 436.06,326.78 436.60,325.94 437.20,325.00 437.87,323.93 438.60,322.75 439.38,321.46 440.21,320.09 441.07,318.66 441.96,317.19 442.85,315.69 443.76,314.19 444.65,312.70 445.53,311.24 446.38,309.83 447.20,308.50 447.99,307.22 448.77,305.97 449.54,304.73 450.30,303.52 451.06,302.32 451.81,301.12 452.55,299.94 453.30,298.76 454.05,297.58 454.79,296.39 455.54,295.20 456.30,294.00 457.06,292.79 457.82,291.57 458.58,290.35 459.34,289.13 460.10,287.91 460.86,286.69 461.62,285.48 462.37,284.27 463.13,283.06 463.89,281.86 464.65,280.68 465.40,279.50 466.16,278.33 466.92,277.15 467.68,275.97 468.44,274.80 469.20,273.63 469.96,272.48 470.71,271.33 471.46,270.20 472.21,269.09 472.95,268.00 473.68,266.94 474.40,265.90 475.12,264.88 475.86,263.86 476.60,262.86 477.34,261.86 478.08,260.89 478.81,259.94 479.51,259.02 480.20,258.13 480.86,257.27 481.48,256.47 482.06,255.71 482.60,255.00 483.08,254.36 483.50,253.79 483.86,253.28 484.19,252.81 484.49,252.39 484.77,251.99 485.05,251.61 485.33,251.24 485.62,250.86 485.94,250.47 486.30,250.05 486.70,249.60 487.15,249.11 487.63,248.60 488.14,248.07 488.67,247.53 489.22,246.98 489.77,246.44 490.32,245.90 490.87,245.39 491.41,244.89 491.93,244.42 492.43,243.99 492.90,243.60 493.34,243.25 493.76,242.93 494.16,242.64 494.55,242.37 494.93,242.12 495.29,241.89 495.66,241.68 496.02,241.49 496.38,241.31 496.75,241.13 497.12,240.96 497.50,240.80 497.90,240.65 498.33,240.51 498.78,240.38 499.23,240.27 499.69,240.17 500.14,240.08 500.57,239.99 500.98,239.92 501.35,239.86 501.69,239.80 501.97,239.75 502.20,239.70 504.50,239.90 506.10,240.60 507.00,242.00 507.40,244.50 507.80,247.10 509.00,250.50 510.00,253.30 511.00,257.50 511.50,261.10 511.90,268.90" fill="none" stroke="#00b050" stroke-width="1.8" stroke-linejoin="round" stroke-linecap="round" />
<polyline points="511.90,268.90 512.10,300.00 512.20,354.00" fill="none" stroke="#3cb86c" stroke-width="1.4" stroke-linejoin="round" stroke-linecap="round" />
<polyline points="512.20,353.70 521.00,353.70" fill="none" stroke="#00b050" stroke-width="2.0" stroke-linejoin="round" stroke-linecap="round" />
<path d="M402.6,200.9 V354.5 H655.6 V200.9 Z" fill="none" stroke="#000" stroke-width="1.3"/>
<line x1="399.3" y1="354.50" x2="402.6" y2="354.50" stroke="#000" stroke-width="1.3"/>
<text x="393.50" y="357.70" font-size="10.9" text-anchor="end" fill="#000" >0</text>
<line x1="399.3" y1="332.56" x2="402.6" y2="332.56" stroke="#000" stroke-width="1.3"/>
<text x="393.50" y="335.76" font-size="10.9" text-anchor="end" fill="#000" >0.05</text>
<line x1="399.3" y1="310.61" x2="402.6" y2="310.61" stroke="#000" stroke-width="1.3"/>
<text x="393.50" y="313.81" font-size="10.9" text-anchor="end" fill="#000" >0.1</text>
<line x1="399.3" y1="288.67" x2="402.6" y2="288.67" stroke="#000" stroke-width="1.3"/>
<text x="393.50" y="291.87" font-size="10.9" text-anchor="end" fill="#000" >0.15</text>
<line x1="399.3" y1="266.73" x2="402.6" y2="266.73" stroke="#000" stroke-width="1.3"/>
<text x="393.50" y="269.93" font-size="10.9" text-anchor="end" fill="#000" >0.2</text>
<line x1="399.3" y1="244.79" x2="402.6" y2="244.79" stroke="#000" stroke-width="1.3"/>
<text x="393.50" y="247.99" font-size="10.9" text-anchor="end" fill="#000" >0.25</text>
<line x1="399.3" y1="222.84" x2="402.6" y2="222.84" stroke="#000" stroke-width="1.3"/>
<text x="393.50" y="226.04" font-size="10.9" text-anchor="end" fill="#000" >0.3</text>
<line x1="399.3" y1="200.90" x2="402.6" y2="200.90" stroke="#000" stroke-width="1.3"/>
<text x="393.50" y="204.10" font-size="10.9" text-anchor="end" fill="#000" >0.35</text>
<line x1="402.60" y1="354.5" x2="402.60" y2="357.8" stroke="#000" stroke-width="1.3"/>
<text x="402.60" y="371.20" font-size="10.8" text-anchor="middle" fill="#000" >0</text>
<line x1="444.77" y1="354.5" x2="444.77" y2="357.8" stroke="#000" stroke-width="1.3"/>
<text x="444.77" y="371.20" font-size="10.8" text-anchor="middle" fill="#000" >2.5</text>
<line x1="486.93" y1="354.5" x2="486.93" y2="357.8" stroke="#000" stroke-width="1.3"/>
<text x="486.93" y="371.20" font-size="10.8" text-anchor="middle" fill="#000" >5</text>
<line x1="529.10" y1="354.5" x2="529.10" y2="357.8" stroke="#000" stroke-width="1.3"/>
<text x="529.10" y="371.20" font-size="10.8" text-anchor="middle" fill="#000" >7.5</text>
<line x1="571.27" y1="354.5" x2="571.27" y2="357.8" stroke="#000" stroke-width="1.3"/>
<text x="571.27" y="371.20" font-size="10.8" text-anchor="middle" fill="#000" >10</text>
<line x1="613.43" y1="354.5" x2="613.43" y2="357.8" stroke="#000" stroke-width="1.3"/>
<text x="613.43" y="371.20" font-size="10.8" text-anchor="middle" fill="#000" >12.5</text>
<line x1="655.60" y1="354.5" x2="655.60" y2="357.8" stroke="#000" stroke-width="1.3"/>
<text x="655.60" y="371.20" font-size="10.8" text-anchor="middle" fill="#000" >15</text>
<text x="533.30" y="383.20" font-size="10.7" text-anchor="middle" fill="#000" >Strain (%)</text>
<text transform="translate(362.20,272.40) rotate(-90)" font-size="10.85" text-anchor="middle" fill="#000">Specific Stress (GPa.g<tspan font-size="6.5" dy="-3.6">-1</tspan><tspan dy="3.6">.cm</tspan><tspan font-size="6.5" dy="-3.6">3</tspan><tspan dy="3.6">)</tspan></text>
<rect x="575.6" y="205.2" width="75.4" height="64.3" fill="#fff" stroke="#000" stroke-width="1"/>
<line x1="578.9" y1="213.7" x2="595.7" y2="213.7" stroke="#000" stroke-width="1.3"/>
<text x="598.20" y="217.30" font-size="10.7" text-anchor="start" fill="#000" >As-printed</text>
<line x1="578.9" y1="229.3" x2="595.7" y2="229.3" stroke="#4472c4" stroke-width="1.3"/>
<text x="598.20" y="232.90" font-size="10.7" text-anchor="start" fill="#000" >315 °C</text>
<line x1="578.9" y1="244.9" x2="595.7" y2="244.9" stroke="#ff0000" stroke-width="1.3"/>
<text x="598.20" y="248.50" font-size="10.7" text-anchor="start" fill="#000" >325 °C</text>
<line x1="578.9" y1="260.7" x2="595.7" y2="260.7" stroke="#00b050" stroke-width="1.3"/>
<text x="598.20" y="264.30" font-size="10.7" text-anchor="start" fill="#000" >350 °C</text>
</g>
</svg>
</body></html>
